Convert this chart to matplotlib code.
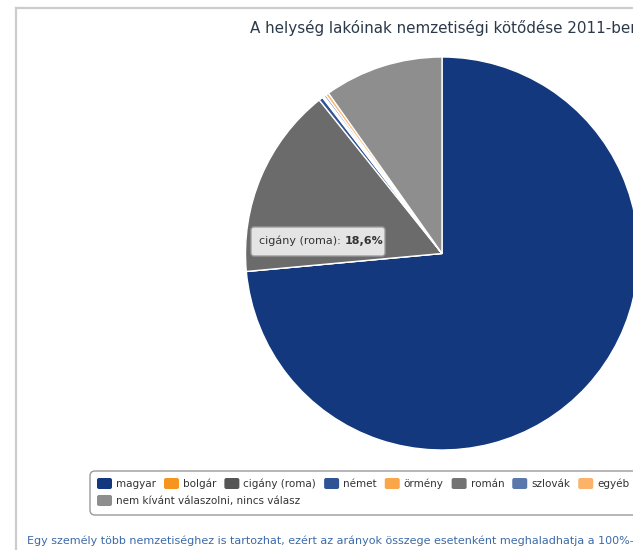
# pie chart of nationality shares (2011 census), drawn in pixel coordinates
import matplotlib
matplotlib.use("Agg")
import matplotlib.pyplot as plt
from matplotlib.patches import FancyBboxPatch
from matplotlib.lines import Line2D

# data
categories = ["magyar", "bolgár", "cigány (roma)", "német", "örmény",
              "román", "szlovák", "egyéb", "nem kívánt válaszolni, nincs válasz"]
values = [87.0, 0.0, 18.6, 0.4, 0.1, 0.1, 0.2, 0.3, 11.6]
colors = ["#13387d", "#f7941d", "#555555", "#2f5496", "#f9a54a",
          "#737373", "#5b78ad", "#fbb36a", "#8e8e8e"]
slice_colors = list(colors)
slice_colors[2] = "#6b6b6b"  # hovered slice looks lighter

title = "A helység lakóinak nemzetiségi kötődése 2011-ben"
footnote = ("Egy személy több nemzetiséghez is tartozhat, ezért az arányok "
            "összege esetenként meghaladhatja a 100%-ot.")

W, H = 633, 550


def main():
    plt.rcParams['font.family'] = ['DejaVu Sans']
    fig = plt.figure(figsize=(W / 100, H / 100), dpi=100)
    ax = fig.add_axes([0, 0, 1, 1])

    # pie (y flipped: pixel y -> H - y)
    ax.pie(values, colors=slice_colors, startangle=90, counterclock=False,
           center=(442, H - 253.5), radius=196.5,
           wedgeprops=dict(edgecolor="white", linewidth=1.0))
    ax.set_xlim(0, W)
    ax.set_ylim(0, H)
    ax.set_aspect("auto")
    ax.axis("off")

    # frame lines of the page
    ax.add_line(Line2D([16, 16], [0, H - 8], color="#cccccc", lw=1.6))
    ax.add_line(Line2D([16, W], [H - 8, H - 8], color="#cccccc", lw=1.6))

    # title
    ax.text(250, H - 28, title, fontsize=10.9, color="#2b3a4a",
            ha="left", va="center", clip_on=False)

    # tooltip
    tip = FancyBboxPatch((251, H - 256), 134, 29,
                         boxstyle="round,pad=0,rounding_size=3",
                         facecolor="#ececec", edgecolor="#9a9a9a", lw=1.0,
                         alpha=0.95)
    ax.add_patch(tip)
    t1 = ax.text(259, H - 241, "cigány (roma): ", fontsize=8, color="#333333",
                 ha="left", va="center")
    fig.canvas.draw()
    r = fig.canvas.get_renderer()
    bb = t1.get_window_extent(renderer=r)
    ax.text(bb.x1, H - 241, f"{values[2]:.1f}%".replace(".", ","),
            fontsize=8, color="#333333", fontweight="bold",
            ha="left", va="center")

    # legend box
    box = FancyBboxPatch((90, H - 515), 600, 44,
                         boxstyle="round,pad=0,rounding_size=5",
                         facecolor="white", edgecolor="#9a9a9a", lw=1.0)
    ax.add_patch(box)
    x = 97
    row_y = [H - 484, H - 501]
    row = 0
    for name, col in zip(categories, colors):
        if name.startswith("nem kívánt"):
            row = 1
            x = 97
        y = row_y[row]
        ax.add_patch(FancyBboxPatch((x, y - 5), 15, 11,
                                    boxstyle="round,pad=0,rounding_size=2",
                                    facecolor=col, edgecolor="none"))
        t = ax.text(x + 19, y, name, fontsize=7.5, color="#333333",
                    ha="left", va="center", clip_on=False)
        w = t.get_window_extent(renderer=r).width
        x += 19 + w + 8

    # footnote
    ax.text(27, H - 541, footnote, fontsize=8, color="#3c6aa8",
            ha="left", va="center")

    fig.savefig("out.png", dpi=100)


if __name__ == "__main__":
    main()
